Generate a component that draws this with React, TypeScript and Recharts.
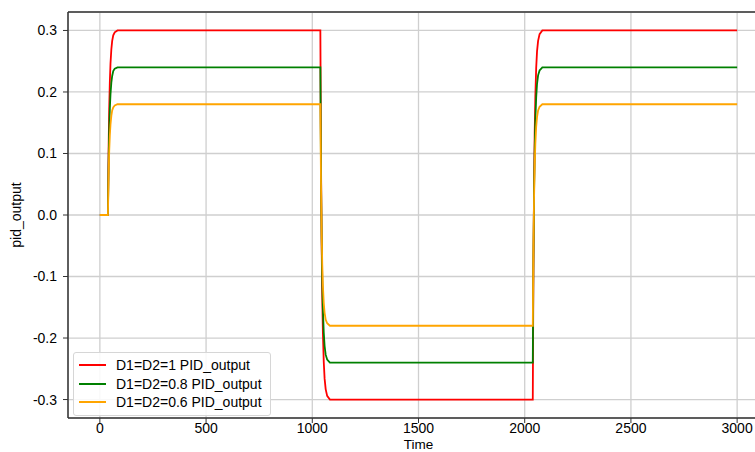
import React from "react";
import {
  LineChart,
  Line,
  XAxis,
  YAxis,
  CartesianGrid,
  Legend,
  ReferenceLine,
} from "recharts";

// time samples (step changes near t=38, 1038, 2038)
const time = [
  0, 38, 41, 44, 47, 50, 54, 58, 63, 70, 83,
  1038, 1041, 1044, 1047, 1050, 1054, 1058, 1063, 1070, 1083,
  2038, 2041, 2044, 2047, 2050, 2054, 2058, 2063, 2070, 2083,
  3000,
];

const outD1 = [
  0, 0, 0.105, 0.173, 0.217, 0.246, 0.269, 0.283, 0.292, 0.297, 0.3,
  0.3, 0.09, -0.046, -0.134, -0.192, -0.239, -0.266, -0.283, -0.294, -0.3,
  -0.3, -0.09, 0.046, 0.134, 0.192, 0.239, 0.266, 0.283, 0.294, 0.3,
  0.3,
];

const outD08 = [
  0, 0, 0.084, 0.138, 0.174, 0.196, 0.215, 0.226, 0.234, 0.238, 0.24,
  0.24, 0.072, -0.037, -0.107, -0.154, -0.191, -0.213, -0.227, -0.235, -0.24,
  -0.24, -0.072, 0.037, 0.107, 0.154, 0.191, 0.213, 0.227, 0.235, 0.24,
  0.24,
];

const outD06 = [
  0, 0, 0.063, 0.104, 0.13, 0.147, 0.161, 0.17, 0.175, 0.178, 0.18,
  0.18, 0.054, -0.028, -0.08, -0.115, -0.143, -0.159, -0.17, -0.176, -0.18,
  -0.18, -0.054, 0.028, 0.08, 0.115, 0.143, 0.159, 0.17, 0.176, 0.18,
  0.18,
];

const xTicks = [0, 500, 1000, 1500, 2000, 2500, 3000];
const yTicks = [-0.3, -0.2, -0.1, 0, 0.1, 0.2, 0.3];

const series = [
  { key: "d1", name: "D1=D2=1 PID_output", color: "#ff0000" },
  { key: "d08", name: "D1=D2=0.8 PID_output", color: "#008000" },
  { key: "d06", name: "D1=D2=0.6 PID_output", color: "#ffa500" },
];

const data = time.map((t, i) => ({
  t,
  d1: outD1[i],
  d08: outD08[i],
  d06: outD06[i],
}));

const FONT = "'Liberation Sans', Arial, sans-serif";
const tickStyle = { fill: "#000", fontSize: 14, fontFamily: FONT };

function LegendBox() {
  return (
    <div
      style={{
        border: "1px solid #d6d6d6",
        borderRadius: 3,
        background: "rgba(255,255,255,0.85)",
        padding: "3px 8px 3px 5px",
        fontFamily: FONT,
        fontSize: 14,
        color: "#000",
      }}
    >
      {series.map((s) => (
        <div
          key={s.key}
          style={{ display: "flex", alignItems: "center", height: 18.5 }}
        >
          <span
            style={{
              display: "inline-block",
              width: 27,
              height: 2,
              background: s.color,
              marginRight: 10,
            }}
          />
          <span>{s.name}</span>
        </div>
      ))}
    </div>
  );
}

export default function App() {
  return (
    <div
      style={{
        position: "absolute",
        left: 0,
        top: 0,
        width: 755,
        height: 452,
        overflow: "hidden",
        background: "#fff",
      }}
    >
      <LineChart
        width={780}
        height={470}
        data={data}
        margin={{ top: 12, right: 11, bottom: 0, left: 0 }}
      >
        <CartesianGrid stroke="#cfcfcf" strokeWidth={1.3} />
        <XAxis
          dataKey="t"
          type="number"
          domain={[-150, 3150]}
          ticks={xTicks}
          allowDataOverflow
          height={52}
          tick={tickStyle}
          tickSize={5}
          tickMargin={0}
          tickLine={{ stroke: "#333" }}
          axisLine={{ stroke: "#333", strokeWidth: 1.5 }}
          label={{
            value: "Time",
            position: "insideBottom",
            offset: 21,
            style: { fill: "#000", fontSize: 13.5, fontFamily: FONT },
          }}
        />
        <YAxis
          type="number"
          domain={[-0.33, 0.33]}
          ticks={yTicks}
          allowDataOverflow
          width={68}
          tick={tickStyle}
          tickSize={5}
          tickMargin={6}
          tickFormatter={(v: number) => v.toFixed(1)}
          tickLine={{ stroke: "#333" }}
          axisLine={{ stroke: "#333", strokeWidth: 1.5 }}
          label={({ viewBox }: any) => (
            <text
              x={16}
              y={viewBox.y + viewBox.height / 2}
              transform={`rotate(-90, 16, ${viewBox.y + viewBox.height / 2})`}
              textAnchor="middle"
              dominantBaseline="central"
              style={{ fill: "#000", fontSize: 14, fontFamily: FONT }}
            >
              pid_output
            </text>
          )}
        />
        <ReferenceLine y={0.33} stroke="#333" strokeWidth={1.5} />
        {series.map((s) => (
          <Line
            key={s.key}
            dataKey={s.key}
            name={s.name}
            type="linear"
            stroke={s.color}
            strokeWidth={1.8}
            dot={false}
            activeDot={false}
            isAnimationActive={false}
          />
        ))}
        <Legend
          layout="vertical"
          align="center"
          verticalAlign="middle"
          wrapperStyle={{ left: 73, top: 352, width: "auto" }}
          content={() => <LegendBox />}
        />
      </LineChart>
    </div>
  );
}
